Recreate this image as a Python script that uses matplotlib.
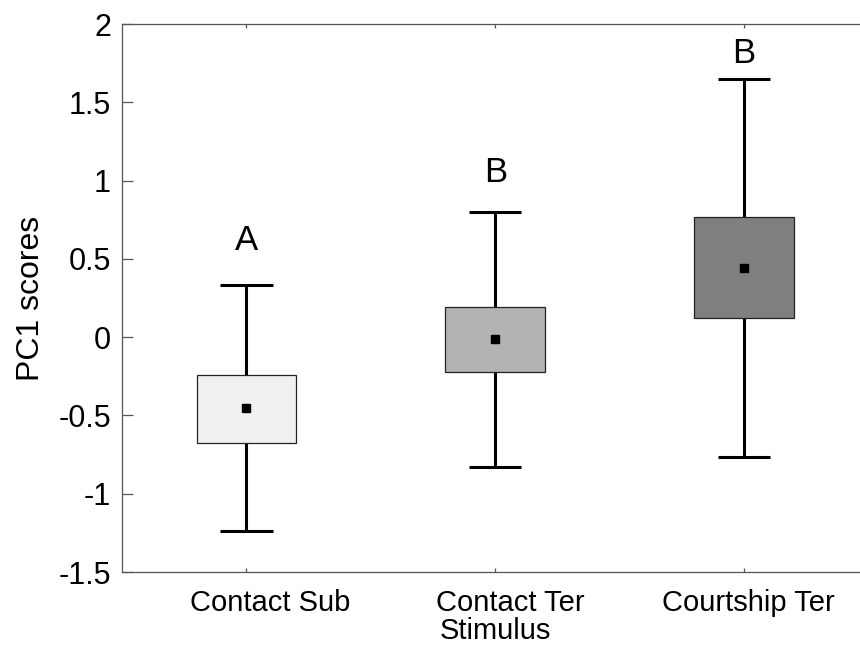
import matplotlib.pyplot as plt

plt.rcParams['font.family'] = ['Liberation Sans', 'DejaVu Sans']

groups = ["Contact Sub", "Contact Ter", "Courtship Ter"]
means = [-0.45, -0.01, 0.44]
box_low = [-0.675, -0.22, 0.12]
box_high = [-0.24, 0.19, 0.765]
whisk_low = [-1.24, -0.83, -0.765]
whisk_high = [0.33, 0.80, 1.65]
letters = ["A", "B", "B"]
letter_y = [0.62, 1.05, 1.81]
colors = ["#f0f0f0", "#b3b3b3", "#7f7f7f"]

fig = plt.figure(figsize=(8.6, 6.46), dpi=100)
ax = fig.add_axes([122/860, 1 - 572/646, 746.5/860, 548/646])

x = [1, 2, 3]

ax.vlines(x, whisk_low, whisk_high, color="black", lw=2.2, zorder=1)
ax.hlines(whisk_low, [i - 0.105 for i in x], [i + 0.105 for i in x],
          color="black", lw=2.2, zorder=1)
ax.hlines(whisk_high, [i - 0.105 for i in x], [i + 0.105 for i in x],
          color="black", lw=2.2, zorder=1)

heights = [h - l for h, l in zip(box_high, box_low)]
ax.bar(x, heights, bottom=box_low, width=0.4, color=colors,
       edgecolor="#222222", linewidth=0.9, zorder=2)

ax.plot(x, means, "s", color="black", markersize=6, zorder=3)

for xi, yi, t in zip(x, letter_y, letters):
    ax.text(xi, yi, t, ha="center", va="center", fontsize=25)

ax.set_xlim(0.5, 3.5)
ax.set_ylim(-1.5, 2)
ax.set_yticks([-1.5, -1, -0.5, 0, 0.5, 1, 1.5, 2])
ax.set_yticklabels(["-1.5", "-1", "-0.5", "0", "0.5", "1", "1.5", "2"], fontsize=22)
ax.set_xticks(x)
ax.set_xticklabels([])

# category labels sit a bit right of their ticks in the original
offsets = [17, 11, 3]
for xi, name, dx in zip(x, groups, offsets):
    ax.annotate(name, xy=(xi, 0), xycoords=ax.get_xaxis_transform(),
                xytext=(dx, -12), textcoords="offset points",
                ha="center", va="top", fontsize=21, annotation_clip=False)

ax.tick_params(axis="y", direction="in", length=8, width=0.9, color="#555555", pad=8)
ax.tick_params(axis="x", direction="in", length=3, width=0.9, color="#555555",
               top=True)
for s in ax.spines.values():
    s.set_color("#555555")
    s.set_linewidth(0.9)
ax.spines["right"].set_visible(False)

ax.set_ylabel("PC1 scores", fontsize=23, labelpad=9)
ax.text(0.5, -0.083, "Stimulus", transform=ax.transAxes, ha="center", va="top",
        fontsize=21)

fig.savefig("out.png", dpi=100)
